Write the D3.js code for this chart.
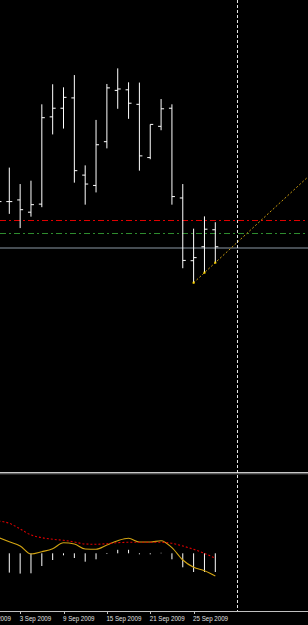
<!DOCTYPE html>
<html><head><meta charset="utf-8">
<script src="https://cdn.jsdelivr.net/npm/d3@7/dist/d3.min.js"></script>
<style>html,body{margin:0;padding:0;background:#000;overflow:hidden}svg{display:block}</style>
</head><body>
<script>
// ---- data ----
const tradingDays = ["2009-08-28","2009-08-31","2009-09-01","2009-09-02","2009-09-03","2009-09-04","2009-09-07","2009-09-08","2009-09-09","2009-09-10","2009-09-11","2009-09-14","2009-09-15","2009-09-16","2009-09-17","2009-09-18","2009-09-21","2009-09-22","2009-09-23","2009-09-24","2009-09-25","2009-09-28","2009-09-29","2009-09-30","2009-10-01"];
const barDates = ["2009-09-01","2009-09-02","2009-09-03","2009-09-04","2009-09-07","2009-09-08","2009-09-09","2009-09-10","2009-09-11","2009-09-14","2009-09-15","2009-09-16","2009-09-17","2009-09-18","2009-09-21","2009-09-22","2009-09-23","2009-09-24","2009-09-25","2009-09-28","2009-09-29"];
const open  = [1.6216,1.6192,1.6198,1.6154,1.6183,1.6496,1.6527,1.6564,1.6287,1.6250,1.6407,1.6591,1.6593,1.6541,1.6350,1.6462,1.6527,1.6205,1.5980,1.6030,1.6091];
const high  = [1.6234,1.6314,1.6255,1.6267,1.6541,1.6613,1.6602,1.6646,1.6322,1.6485,1.6614,1.6670,1.6620,1.6619,1.6469,1.6560,1.6541,1.6255,1.6095,1.6139,1.6118];
const low   = [1.6144,1.6148,1.6097,1.6138,1.6172,1.6433,1.6454,1.6260,1.6181,1.6225,1.6383,1.6525,1.6489,1.6303,1.6344,1.6448,1.6181,1.5953,1.5901,1.5937,1.5973];
const close = [1.6192,1.6192,1.6163,1.6181,1.6493,1.6527,1.6566,1.6303,1.6255,1.6396,1.6600,1.6596,1.6545,1.6356,1.6469,1.6525,1.6210,1.5981,1.5991,1.6093,1.6030];
const redLevel = 1.6126;
const greenLevel = 1.6078;
const trendFrom = "2009-09-25", trendTo = "2009-09-28";
const vLineDate = "2009-10-01";
const macdMain = [0.00316,0.00232,0.00146,-0.00014,0.00032,0.00092,0.00210,0.00186,0.00086,0.00080,0.00166,0.00252,0.00300,0.00226,0.00226,0.00252,0.00112,-0.00134,-0.00280,-0.00348,-0.00454];
const macdSignal = [0.00646,0.00600,0.00486,0.00366,0.00312,0.00280,0.00260,0.00226,0.00186,0.00180,0.00192,0.00212,0.00220,0.00220,0.00220,0.00220,0.00200,0.00146,0.00080,0.00000,-0.00100];
const macdHist = [-0.00400,-0.00386,-0.00406,-0.00400,-0.00254,-0.00134,-0.00040,-0.00094,-0.00168,-0.00120,-0.00014,0.00070,0.00070,-0.00020,-0.00020,0.00010,-0.00120,-0.00280,-0.00374,-0.00374,-0.00374];
const axisLabels = ["2009-08-28","2009-09-03","2009-09-09","2009-09-15","2009-09-21","2009-09-25"];

// ---- layout ----
const W = 308, H = 625;
const svg = d3.select("body").append("svg").attr("width", W).attr("height", H);
svg.append("rect").attr("width", W).attr("height", H).attr("fill", "#000");

const idx = d => tradingDays.indexOf(d);
const x = d3.scaleLinear().domain([idx("2009-09-02"), idx("2009-09-29")]).range([9.3, 215.3]);
const y = d3.scaleLinear().domain([1.59, 1.67]).range([283, 60]);
const yi = d3.scaleLinear().domain([0, 0.002]).range([553.3, 543.3]);

const defs = svg.append("defs");
defs.append("clipPath").attr("id","cTop").append("rect").attr("x",0).attr("y",0).attr("width",W).attr("height",471);
defs.append("clipPath").attr("id","cBot").append("rect").attr("x",0).attr("y",476).attr("width",W).attr("height",134);

const gTop = svg.append("g").attr("clip-path","url(#cTop)");
const gBot = svg.append("g").attr("clip-path","url(#cBot)");

// horizontal levels
const crisp = v => Math.round(v) + 0.5;
gTop.append("line").attr("x1",0).attr("x2",W).attr("y1",crisp(y(redLevel))).attr("y2",crisp(y(redLevel)))
  .attr("stroke","#e00000").attr("stroke-width",1.2).attr("stroke-dasharray","6,3,2,3");
gTop.append("line").attr("x1",0).attr("x2",W).attr("y1",crisp(y(greenLevel))).attr("y2",crisp(y(greenLevel)))
  .attr("stroke","#2e8b2e").attr("stroke-width",1).attr("stroke-dasharray","6,3,2,3");
const bid = close[close.length-1];
gTop.append("line").attr("x1",0).attr("x2",W).attr("y1",crisp(y(bid))+0.5).attr("y2",crisp(y(bid))+0.5)
  .attr("stroke","#8c99a6").attr("stroke-width",1);

// trendline (ray through two lows)
const i1 = barDates.indexOf(trendFrom), i2 = barDates.indexOf(trendTo);
const tx1 = idx(trendFrom), tx2 = idx(trendTo);
const slope = (low[i2]-low[i1])/(tx2-tx1);
const txEnd = x.invert(W + 5);
gTop.append("line").attr("x1",x(tx1)).attr("y1",y(low[i1])).attr("x2",x(txEnd)).attr("y2",y(low[i1] + slope*(txEnd-tx1)))
  .attr("stroke","#c89a10").attr("stroke-width",1).attr("stroke-dasharray","2,2");

// OHLC bars
const bars = barDates.map((d,i)=>({x:x(idx(d)), o:open[i], h:high[i], l:low[i], c:close[i]}));
const bg = gTop.append("g").attr("stroke","#fff").attr("stroke-width",1);
bg.selectAll(".hl").data(bars).join("line").attr("class","hl").attr("x1",d=>d.x).attr("x2",d=>d.x).attr("y1",d=>y(d.h)).attr("y2",d=>y(d.l));
bg.selectAll(".o").data(bars).join("line").attr("class","o").attr("x1",d=>d.x-3).attr("x2",d=>d.x).attr("y1",d=>y(d.o)).attr("y2",d=>y(d.o));
bg.selectAll(".c").data(bars).join("line").attr("class","c").attr("x1",d=>d.x).attr("x2",d=>d.x+3).attr("y1",d=>y(d.c)).attr("y2",d=>y(d.c));

// yellow markers at trend lows
[trendFrom, trendTo, "2009-09-29"].forEach(d=>{
  const i = barDates.indexOf(d);
  gTop.append("rect").attr("x",x(idx(d))-1).attr("y",y(low[i])-1).attr("width",2).attr("height",2).attr("fill","#ffd700");
});

// separator
svg.append("rect").attr("x",0).attr("y",472).attr("width",W).attr("height",1.6).attr("fill","#c8c8c8");
svg.append("rect").attr("x",0).attr("y",473.6).attr("width",W).attr("height",1).attr("fill","#3c3c3c");

// indicator
const ib = barDates.map((d,i)=>({x:x(idx(d)), h:macdHist[i], m:macdMain[i], s:macdSignal[i]}));
gBot.append("g").selectAll("line").data(ib).join("line")
  .attr("x1",d=>d.x).attr("x2",d=>d.x).attr("y1",yi(0)).attr("y2",d=>yi(d.h))
  .attr("stroke","#fff").attr("stroke-width",1);
gBot.append("path").datum(ib).attr("fill","none").attr("stroke","#d4a512").attr("stroke-width",1.1)
  .attr("d", d3.line().x(d=>d.x).y(d=>yi(d.m)).curve(d3.curveMonotoneX));
gBot.append("path").datum(ib).attr("fill","none").attr("stroke","#e00000").attr("stroke-width",1.1).attr("stroke-dasharray","2,2")
  .attr("d", d3.line().x(d=>d.x).y(d=>yi(d.s)).curve(d3.curveMonotoneX));

// vertical dashed line
const vx = Math.round(x(idx(vLineDate))) + 0.5;
svg.append("line").attr("x1",vx).attr("x2",vx).attr("y1",0).attr("y2",611)
  .attr("stroke","#e8e8e8").attr("stroke-width",1).attr("stroke-dasharray","3,2");

// time axis
svg.append("line").attr("x1",0).attr("x2",W).attr("y1",611.5).attr("y2",611.5).attr("stroke","#c0c0c0");
const fmt = d3.timeFormat("%-d %b %Y"), parse = d3.timeParse("%Y-%m-%d");
const ax = svg.append("g");
ax.selectAll("line").data(axisLabels).join("line")
  .attr("x1",d=>Math.round(x(idx(d)))+0.5).attr("x2",d=>Math.round(x(idx(d)))+0.5)
  .attr("y1",611).attr("y2",614).attr("stroke","#c0c0c0");
ax.selectAll("text").data(axisLabels).join("text")
  .attr("x",d=>x(idx(d))-0.5).attr("y",620.5)
  .attr("fill","#e0e0e0").attr("font-family","Liberation Sans, Arial, sans-serif").attr("font-size","8px")
  .text(d=>fmt(parse(d)))
  .each(function(){ const L=this.getComputedTextLength(); d3.select(this).attr("textLength",L*0.77).attr("lengthAdjust","spacingAndGlyphs"); });
</script>
</body></html>
